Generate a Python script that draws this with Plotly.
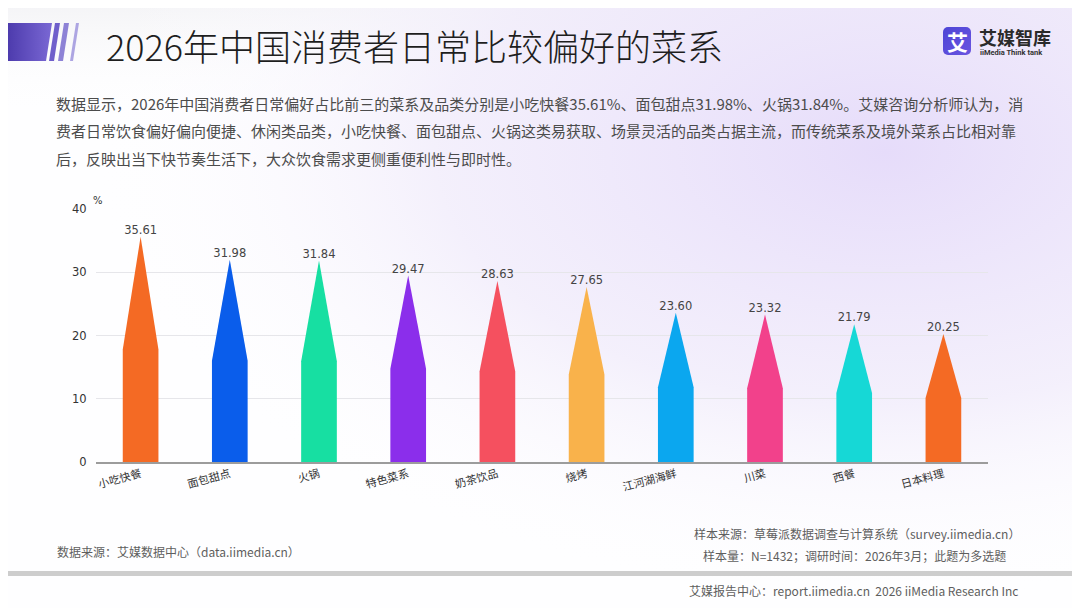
import base64
import plotly.graph_objects as go

# the page puts the figure 8px in from the top-left corner
OFF = 8
W, H = 1080 - OFF, 608 - OFF

# data
categories = ["小吃快餐", "面包甜点", "火锅", "特色菜系", "奶茶饮品",
              "烧烤", "江河湖海鲜", "川菜", "西餐", "日本料理"]
shares = [35.61, 31.98, 31.84, 29.47, 28.63, 27.65, 23.60, 23.32, 21.79, 20.25]
bar_colors = ["#F46A24", "#0A5DEB", "#17DFA2", "#8B2EEB", "#F5505F",
              "#F9B24B", "#0BA7EF", "#F2418B", "#16D8D6", "#F46A24"]
y_ticks = [0, 10, 20, 30, 40]

title = "2026年中国消费者日常比较偏好的菜系"
intro_lines = [
    "数据显示，2026年中国消费者日常偏好占比前三的菜系及品类分别是小吃快餐35.61%、面包甜点31.98%、火锅31.84%。艾媒咨询分析师认为，消",
    "费者日常饮食偏好偏向便捷、休闲类品类，小吃快餐、面包甜点、火锅这类易获取、场景灵活的品类占据主流，而传统菜系及境外菜系占比相对靠",
    "后，反映出当下快节奏生活下，大众饮食需求更侧重便利性与即时性。",
]
source_left = "数据来源：艾媒数据中心（data.iimedia.cn）"
source_right = ["样本来源：草莓派数据调查与计算系统（survey.iimedia.cn）",
                "样本量：N=1432；调研时间：2026年3月；此题为多选题"]
footer = "艾媒报告中心：report.iimedia.cn  2026 iiMedia Research Inc"

CJK = "Noto Sans CJK SC"
NUM = "DejaVu Sans, Noto Sans CJK SC"


def px(x):
    # page pixel -> paper fraction
    return (x - OFF) / W


def py(y):
    return 1 - (y - OFF) / H


# soft lavender page background + header bar, drawn as an svg image (page coords shifted by OFF)
svg = f"""<svg xmlns='http://www.w3.org/2000/svg' width='{W}' height='{H}' viewBox='{OFF} {OFF} {W} {H}'>
<defs>
<radialGradient id='bg' cx='0.82' cy='0.25' r='0.75'>
<stop offset='0' stop-color='#E6DCFA' stop-opacity='1'/>
<stop offset='0.55' stop-color='#F1ECFB' stop-opacity='0.8'/>
<stop offset='1' stop-color='#FFFFFF' stop-opacity='0'/>
</radialGradient>
<linearGradient id='top' x1='0' y1='0' x2='0' y2='1'>
<stop offset='0' stop-color='#F2F2F5' stop-opacity='0.9'/>
<stop offset='1' stop-color='#FFFFFF' stop-opacity='0'/>
</linearGradient>
<linearGradient id='bar' x1='0' y1='0' x2='1' y2='0'>
<stop offset='0' stop-color='#4533A6'/>
<stop offset='1' stop-color='#7A68D4'/>
</linearGradient>
<linearGradient id='logo' x1='0' y1='0' x2='1' y2='1'>
<stop offset='0' stop-color='#4D45D6'/>
<stop offset='1' stop-color='#6A55E0'/>
</linearGradient>
</defs>
<rect width='1080' height='608' fill='#FEFEFF'/>
<rect width='1080' height='120' fill='url(#top)'/>
<rect width='1080' height='608' fill='url(#bg)'/>
<polygon points='0,23 52,23 46,61 0,61' fill='url(#bar)'/>
<polygon points='55,23 60,23 54,61 49,61' fill='#6F5FCB'/>
<polygon points='64,23 69,23 63,61 58,61' fill='#8D82D6'/>
<polygon points='76,23 79,23 73,61 70,61' fill='#ADA5E2'/>
<rect x='943' y='27' width='28' height='28' rx='5' fill='url(#logo)'/>
</svg>"""
bg_src = "data:image/svg+xml;base64," + base64.b64encode(svg.encode("utf-8")).decode()

fig = go.Figure()

half = 0.2
for i, (cat, v, c) in enumerate(zip(categories, shares, bar_colors)):
    # pencil-shaped bar: body up to half the value, point up to the value
    fig.add_trace(go.Scatter(
        x=[i - half, i - half, i, i + half, i + half, i - half],
        y=[0, v / 2, v, v / 2, 0, 0],
        mode="lines", fill="toself", fillcolor=c,
        line=dict(width=0, color=c),
        name=cat, hoveron="fills", showlegend=False,
    ))

fig.add_trace(go.Scatter(
    x=list(range(len(categories))), y=shares,
    mode="text", text=[f"{v:.2f}" for v in shares],
    textposition="top center",
    textfont=dict(family=NUM, size=11.5, color="#444444"),
    showlegend=False, hoverinfo="skip",
))

annotations = [
    dict(text=title, x=px(104), y=py(45), xanchor="left", yanchor="middle",
         font=dict(family=CJK, size=36, color="#1E1E1E", weight=300)),
    dict(text="%", x=px(91), y=py(200), xanchor="left", yanchor="middle",
         font=dict(family=NUM, size=10, color="#333333")),
    dict(text="艾", x=px(957), y=py(41), xanchor="center", yanchor="middle",
         font=dict(family=CJK, size=21, color="#FFFFFF", weight="bold")),
    dict(text="艾媒智库", x=px(977), y=py(37), xanchor="left", yanchor="middle",
         font=dict(family=CJK, size=18, color="#2A2A2A", weight="bold")),
    dict(text="iiMedia Think tank", x=px(978), y=py(52.5), xanchor="left", yanchor="middle",
         font=dict(family="Roboto", size=7.5, color="#333333", weight="bold")),
    dict(text=source_left, x=px(55), y=py(551), xanchor="left", yanchor="middle",
         font=dict(family=CJK, size=12, color="#5E5E5E")),
    dict(text=source_right[0], x=px(1022), y=py(533), xanchor="right", yanchor="middle",
         font=dict(family=CJK, size=12, color="#5E5E5E")),
    dict(text=source_right[1], x=px(1008), y=py(555), xanchor="right", yanchor="middle",
         font=dict(family=CJK, size=12, color="#5E5E5E")),
    dict(text=footer, x=px(1020), y=py(590), xanchor="right", yanchor="middle",
         font=dict(family=CJK, size=12, color="#5E5E5E")),
]
for k, line in enumerate(intro_lines):
    annotations.append(dict(
        text=line, x=px(54), y=py(103 + 27.5 * k), xanchor="left", yanchor="middle",
        font=dict(family=CJK, size=15, color="#4C4C4C")))
for a in annotations:
    a.update(xref="paper", yref="paper", showarrow=False)

fig.update_layout(
    width=W, height=H,
    margin=dict(l=0, r=0, t=0, b=0),
    paper_bgcolor="#FFFFFF",
    plot_bgcolor="rgba(0,0,0,0)",
    showlegend=False,
    images=[dict(source=bg_src, xref="paper", yref="paper", x=0, y=1,
                 sizex=1, sizey=1, xanchor="left", yanchor="top",
                 sizing="stretch", layer="below")],
    shapes=[dict(type="rect", xref="paper", yref="paper",
                 x0=0, x1=1, y0=py(576), y1=py(571),
                 fillcolor="#CDCDCD", line=dict(width=0))],
    annotations=annotations,
    xaxis=dict(
        domain=[px(96), px(988)], range=[-0.5, len(categories) - 0.5],
        tickvals=list(range(len(categories))), ticktext=categories,
        tickangle=-15, tickfont=dict(family=CJK, size=11, color="#333333"),
        showline=True, linecolor="#9C9C9C", linewidth=1.5,
        showgrid=False, zeroline=False, ticks="", automargin=False,
        fixedrange=True,
    ),
    yaxis=dict(
        domain=[py(462), py(209)], range=[0, 40],
        tickvals=y_ticks, tickfont=dict(family=NUM, size=11.5, color="#333333"),
        ticks="outside", ticklen=6, tickcolor="rgba(0,0,0,0)",
        showgrid=True, gridcolor="#E6E6EA", gridwidth=1,
        zeroline=False, showline=False, automargin=False, fixedrange=True,
    ),
)

fig.write_html("out.html")
